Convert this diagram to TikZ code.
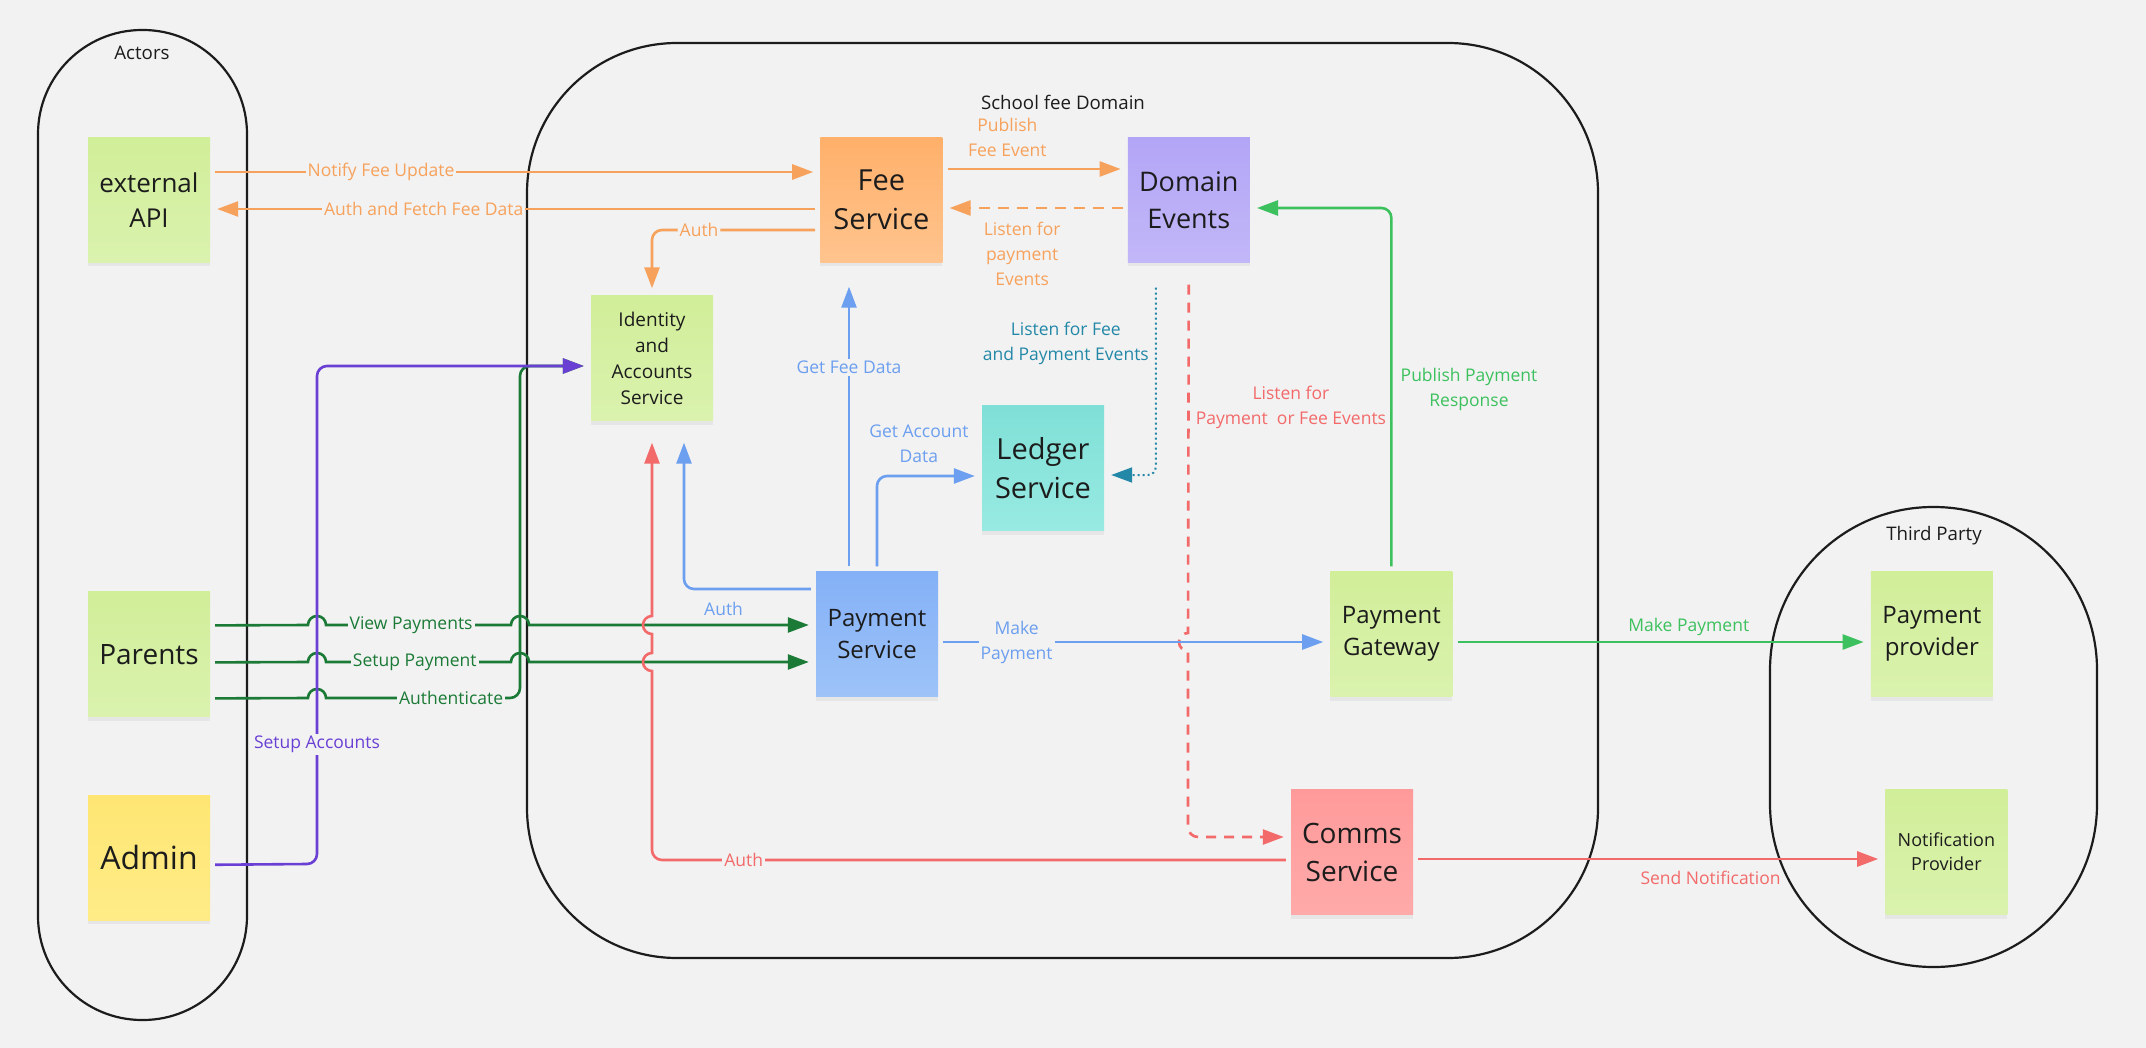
\documentclass[tikz,border=0pt]{standalone}
\usepackage{fontspec}
\setmainfont{Open Sans}
\usetikzlibrary{arrows.meta,positioning,shadows}

\definecolor{bg}{HTML}{F2F2F2}
\definecolor{ink}{HTML}{1C1C1C}
\definecolor{cOrange}{HTML}{F7A25C}
\definecolor{cGreen}{HTML}{1A7A36}
\definecolor{cPurple}{HTML}{6A3FD4}
\definecolor{cBlue}{HTML}{6C9FEF}
\definecolor{cTeal}{HTML}{2388A8}
\definecolor{cRed}{HTML}{F26A6A}
\definecolor{cLime}{HTML}{3DC15E}
\definecolor{gT}{HTML}{D1EE99}
\definecolor{gB}{HTML}{DAF2AE}
\definecolor{yT}{HTML}{FFE673}
\definecolor{yB}{HTML}{FFEC88}
\definecolor{oT}{HTML}{FFB06A}
\definecolor{oB}{HTML}{FFC48E}
\definecolor{pT}{HTML}{B3A5F6}
\definecolor{pB}{HTML}{C2B7F8}
\definecolor{tT}{HTML}{7FE0D7}
\definecolor{tB}{HTML}{98EAE2}
\definecolor{bT}{HTML}{84B0F6}
\definecolor{bB}{HTML}{9DC3F8}
\definecolor{rT}{HTML}{FF9A9A}
\definecolor{rB}{HTML}{FFAAAA}

\newcommand{\fsz}[2]{\fontsize{#1}{#2}\selectfont}

\begin{document}
\begin{tikzpicture}[x=1pt,y=-1pt,
	note/.style	={rectangle,inner sep=0pt,minimum width=122pt,minimum height=125pt,align=center,text=ink,
		drop shadow={opacity=.10,shadow xshift=0pt,shadow yshift=-4pt}},
	gnote/.style	={note,top color=gT,bottom color=gB},
	ynote/.style	={note,top color=yT,bottom color=yB},
	onote/.style	={note,top color=oT,bottom color=oB},
	pnote/.style	={note,top color=pT,bottom color=pB},
	tnote/.style	={note,top color=tT,bottom color=tB},
	bnote/.style	={note,top color=bT,bottom color=bB},
	rnote/.style	={note,top color=rT,bottom color=rB},
	group/.style	={draw=ink,line width=2.2pt},
	title/.style	={font=\fsz{18.7}{25},text=ink},
	paths/.style	={line width=2.6pt,-{Triangle[length=21pt,width=15pt]},shorten <=5pt,shorten >=7pt},
	lbl/.style	={font=\fsz{17.5}{25},align=center,inner sep=2pt},
	onl/.style	={lbl,fill=bg},
	]
	
	\fill [bg] (0,0) rectangle (2146,1048);
	
	\draw [group,rounded corners=104pt] (38,30) rectangle (247,1020);
	\draw [group,rounded corners=150pt] (527,43) rectangle (1598,958);
	\draw [group,rounded corners=163pt] (1770,507) rectangle (2097,967);
	\node [title] (actorsT) at (142,53) {Actors};
	\node [title] (domainT) at (1063,102) {School fee Domain};
	\node [title] (thirdT) at (1934,536) {Third Party};
	
	\node [gnote,font=\fsz{26}{35}] (ext) at (149,200) {external\\API};
	\node [onote,font=\fsz{29}{39.5}] (fee) [right=610pt of ext] {Fee\\Service};
	\node [pnote,font=\fsz{27}{36.7}] (events) [right=185pt of fee] {Domain\\Events};
	\node [gnote,font=\fsz{19}{26}] (ident) at (652,358) {Identity\\and\\Accounts\\Service};
	\node [tnote,font=\fsz{29}{39}] (ledger) at (1043,468) {Ledger\\Service};
	\node [gnote,font=\fsz{28}{38}] (parents) [below=329pt of ext] {Parents};
	\node [ynote,font=\fsz{32}{43}] (admin) [below=78pt of parents] {Admin};
	\node [bnote,font=\fsz{24}{32}] (pay) at (877,634) {Payment\\Service};
	\node [gnote,font=\fsz{24}{32}] (gateway) [right=392pt of pay] {Payment\\Gateway};
	\node [gnote,font=\fsz{24}{32}] (provider) [right=418pt of gateway] {Payment\\provider};
	\node [rnote,font=\fsz{28}{38}] (comms) at (1352,852) {Comms\\Service};
	\node [gnote,font=\fsz{18}{24}] (notify) [right=472pt of comms] {Notification\\Provider};
	
	\draw [paths,cOrange] ([yshift=28pt]ext.east) -- node[pos=.28,onl] {Notify Fee Update} ([yshift=28pt]fee.west);
	\draw [paths,cOrange] ([yshift=-9pt]fee.west) -- node[pos=.65,onl] {Auth and Fetch Fee Data} ([yshift=-9pt]ext.east);
	\draw [paths,cOrange,rounded corners=10pt] ([yshift=-30pt]fee.west) -| node[pos=.36,onl] {Auth} (ident.north);
	\draw [paths,cOrange] ([yshift=31pt]fee.east) -- node[pos=.35,lbl,above=9pt] {Publish\\Fee Event} ([yshift=31pt]events.west);
	\draw [paths,cOrange,dash pattern=on 11pt off 8pt] ([yshift=-8pt]events.west) -- node[pos=.57,lbl,below=11pt] {Listen for\\payment\\Events} ([yshift=-8pt]fee.east);
	
	\draw [paths,cLime,rounded corners=10pt] (gateway.north) |- node[pos=.25,lbl,right=6pt] {Publish Payment\\Response} ([yshift=-8pt]events.east);
	\draw [paths,cTeal,line width=2pt,dash pattern=on 2pt off 3pt,rounded corners=8pt,shorten <=25pt] ([xshift=-33pt]events.south) |- node[pos=.19,lbl,left=4pt] {Listen for Fee\\and Payment Events} ([yshift=-7pt]ledger.east);
	\draw [paths,cRed,dash pattern=on 10pt off 8pt,shorten <=22pt] (events.south) -- (1188,633) node[pos=.39,lbl,right=4pt] {Listen for\\Payment\ \ or Fee Events} arc[start angle=90,end angle=270,radius=9pt] -- (1188,827) arc[start angle=180,end angle=270,radius=10pt] -- ([yshift=15pt]comms.west);
	
	\draw [paths,cBlue,shorten >=24pt] ([xshift=-28pt]pay.north) -- node[pos=.66,onl] {Get Fee Data} ([xshift=-28pt]pay.north |- fee.south);
	\draw [paths,cBlue,rounded corners=10pt] (pay.north) |- node[pos=.7,lbl,above=10pt] {Get Account\\Data} ([yshift=-8pt]ledger.west);
	\draw [paths,cBlue,rounded corners=10pt,shorten >=22pt] ([yshift=45pt]pay.west) -| node[pos=.35,lbl,below=10pt] {Auth} ([xshift=32pt]ident.south);
	\draw [paths,cBlue] ([yshift=-8pt]pay.east) -- node[pos=.2,onl] {Make\\Payment} ([yshift=-8pt]gateway.west);
	
	\draw [paths,cGreen] ([yshift=29pt]parents.east) -- (308,625) arc[start angle=180,end angle=0,radius=9pt] -- (511,625) node[pos=.46,onl] {View Payments} arc[start angle=180,end angle=0,radius=9pt] -- ([yshift=9pt]pay.west);
	\draw [paths,cGreen] ([yshift=-8pt]parents.east) -- (308,662) arc[start angle=180,end angle=0,radius=9pt] -- (511,662) node[pos=.48,onl] {Setup Payment} arc[start angle=180,end angle=0,radius=9pt] -- ([yshift=-28pt]pay.west);
	\draw [paths,cGreen] ([yshift=-44pt]parents.east) -- (308,698) arc[start angle=180,end angle=0,radius=9pt] -- (510,698) node[pos=.68,onl] {Authenticate} arc[start angle=270,end angle=360,radius=10pt] -- (520,376) arc[start angle=180,end angle=90,radius=10pt] -- ([yshift=-8pt]ident.west);
	\draw [paths,cPurple] ([yshift=-7pt]admin.east) -- (307,864) arc[start angle=270,end angle=360,radius=10pt] -- (317,376) node[pos=.23,onl] {Setup Accounts} arc[start angle=180,end angle=90,radius=10pt] -- ([yshift=-8pt]ident.west);
	
	\draw [paths,cRed,shorten >=22pt] ([yshift=-8pt]comms.west) -- (662,860) node[pos=.87,onl] {Auth} arc[start angle=270,end angle=180,radius=10pt] -- (652,671) arc[start angle=270,end angle=90,radius=9pt] -- (652,634) arc[start angle=270,end angle=90,radius=9pt] -- (ident.south);
	\draw [paths,cLime] ([yshift=-8pt]gateway.east) -- node[pos=.565,lbl,above=3pt] {Make Payment} ([yshift=-8pt]provider.west);
	\draw [paths,cRed] ([yshift=-7pt]comms.east) -- node[pos=.63,lbl,below=9pt] {Send Notification} ([yshift=-7pt]notify.west);
\end{tikzpicture}
\end{document}
